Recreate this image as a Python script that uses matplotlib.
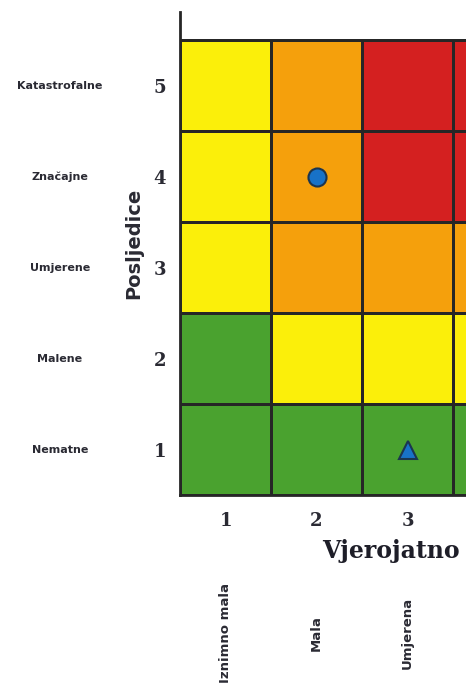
import numpy as np
import matplotlib
matplotlib.use("Agg")
import matplotlib.pyplot as plt
from matplotlib.colors import ListedColormap

# Data
likelihood = [1, 2, 3, 4]
consequence = [1, 2, 3, 4, 5]
consequence_names = ["Nematne", "Malene", "Umjerene", "Značajne", "Katastrofalne"]
likelihood_names = ["Iznimno mala", "Mala", "Umjerena"]
# risk level per cell: 0 green, 1 yellow, 2 orange, 3 red (rows = consequence 1..5)
risk = [
    [0, 0, 0, 0],
    [0, 1, 1, 1],
    [1, 2, 2, 2],
    [1, 2, 3, 3],
    [1, 2, 3, 3],
]
circle_pt = (2, 4)
triangle_pt = (3, 1)

colors = ["#4aa22f", "#fbef0a", "#f5a00c", "#d42020"]

fig = plt.figure(figsize=(4.66, 6.86), dpi=100)
# axes reaches past right edge, the original is cropped there
ax = fig.add_axes([180 / 466, 191 / 686, 364 / 466, 483 / 686])

xe = np.arange(0.5, len(likelihood) + 0.6, 1)
ye = np.arange(0.5, len(consequence) + 0.6, 1)
ax.pcolormesh(xe, ye, np.array(risk), cmap=ListedColormap(colors), vmin=-0.5, vmax=3.5,
              edgecolors="#262626", linewidth=2)

ax.plot(*circle_pt, marker="o", markersize=13, color="#1872c8", markeredgecolor="#1b3550",
        markeredgewidth=1.5, linestyle="none")
ax.plot(*triangle_pt, marker="^", markersize=13, color="#1872c8", markeredgecolor="#1b3550",
        markeredgewidth=1.5, linestyle="none")

ax.set_xlim(0.5, 4.5)
ax.set_ylim(0.5, 5.81)
for s in ["top", "right"]:
    ax.spines[s].set_visible(False)
for s in ["left", "bottom"]:
    ax.spines[s].set_linewidth(2)
    ax.spines[s].set_color("#262626")

ax.set_xticks(likelihood[:3])
ax.set_xticklabels([str(v) for v in likelihood[:3]], family="DejaVu Serif", fontweight="bold",
                   fontsize=13, color="#2a2a33")
ax.set_yticks(consequence)
ax.set_yticklabels([str(v) for v in consequence], family="DejaVu Serif", fontweight="bold",
                   fontsize=13, color="#2a2a33")
ax.tick_params(length=0, pad=10)
ax.tick_params(axis="x", pad=12)

ax.set_ylabel("Posljedice", fontsize=14, fontweight="bold", color="#2a2a33")
ax.yaxis.set_label_coords(-0.1, 0.52)

# x label (the reference is cropped right after "Vjerojatno")
ax.text(322 / 466, (686 - 551) / 686, "Vjerojatno", transform=fig.transFigure,
        family="DejaVu Serif", fontweight="bold", fontsize=17, color="#1e1e28",
        ha="left", va="center")

for y, name in zip(consequence, consequence_names):
    ax.text(-0.33, y, name, transform=ax.get_yaxis_transform(), ha="center", va="center",
            fontsize=8, fontweight="bold", color="#2a2a33")

for x, name in zip(likelihood, likelihood_names):
    ax.text(x, -0.285, name, transform=ax.get_xaxis_transform(), rotation=90,
            ha="center", va="center", fontsize=9.5, fontweight="bold", color="#2a2a33")

fig.savefig("out.png", dpi=100)
